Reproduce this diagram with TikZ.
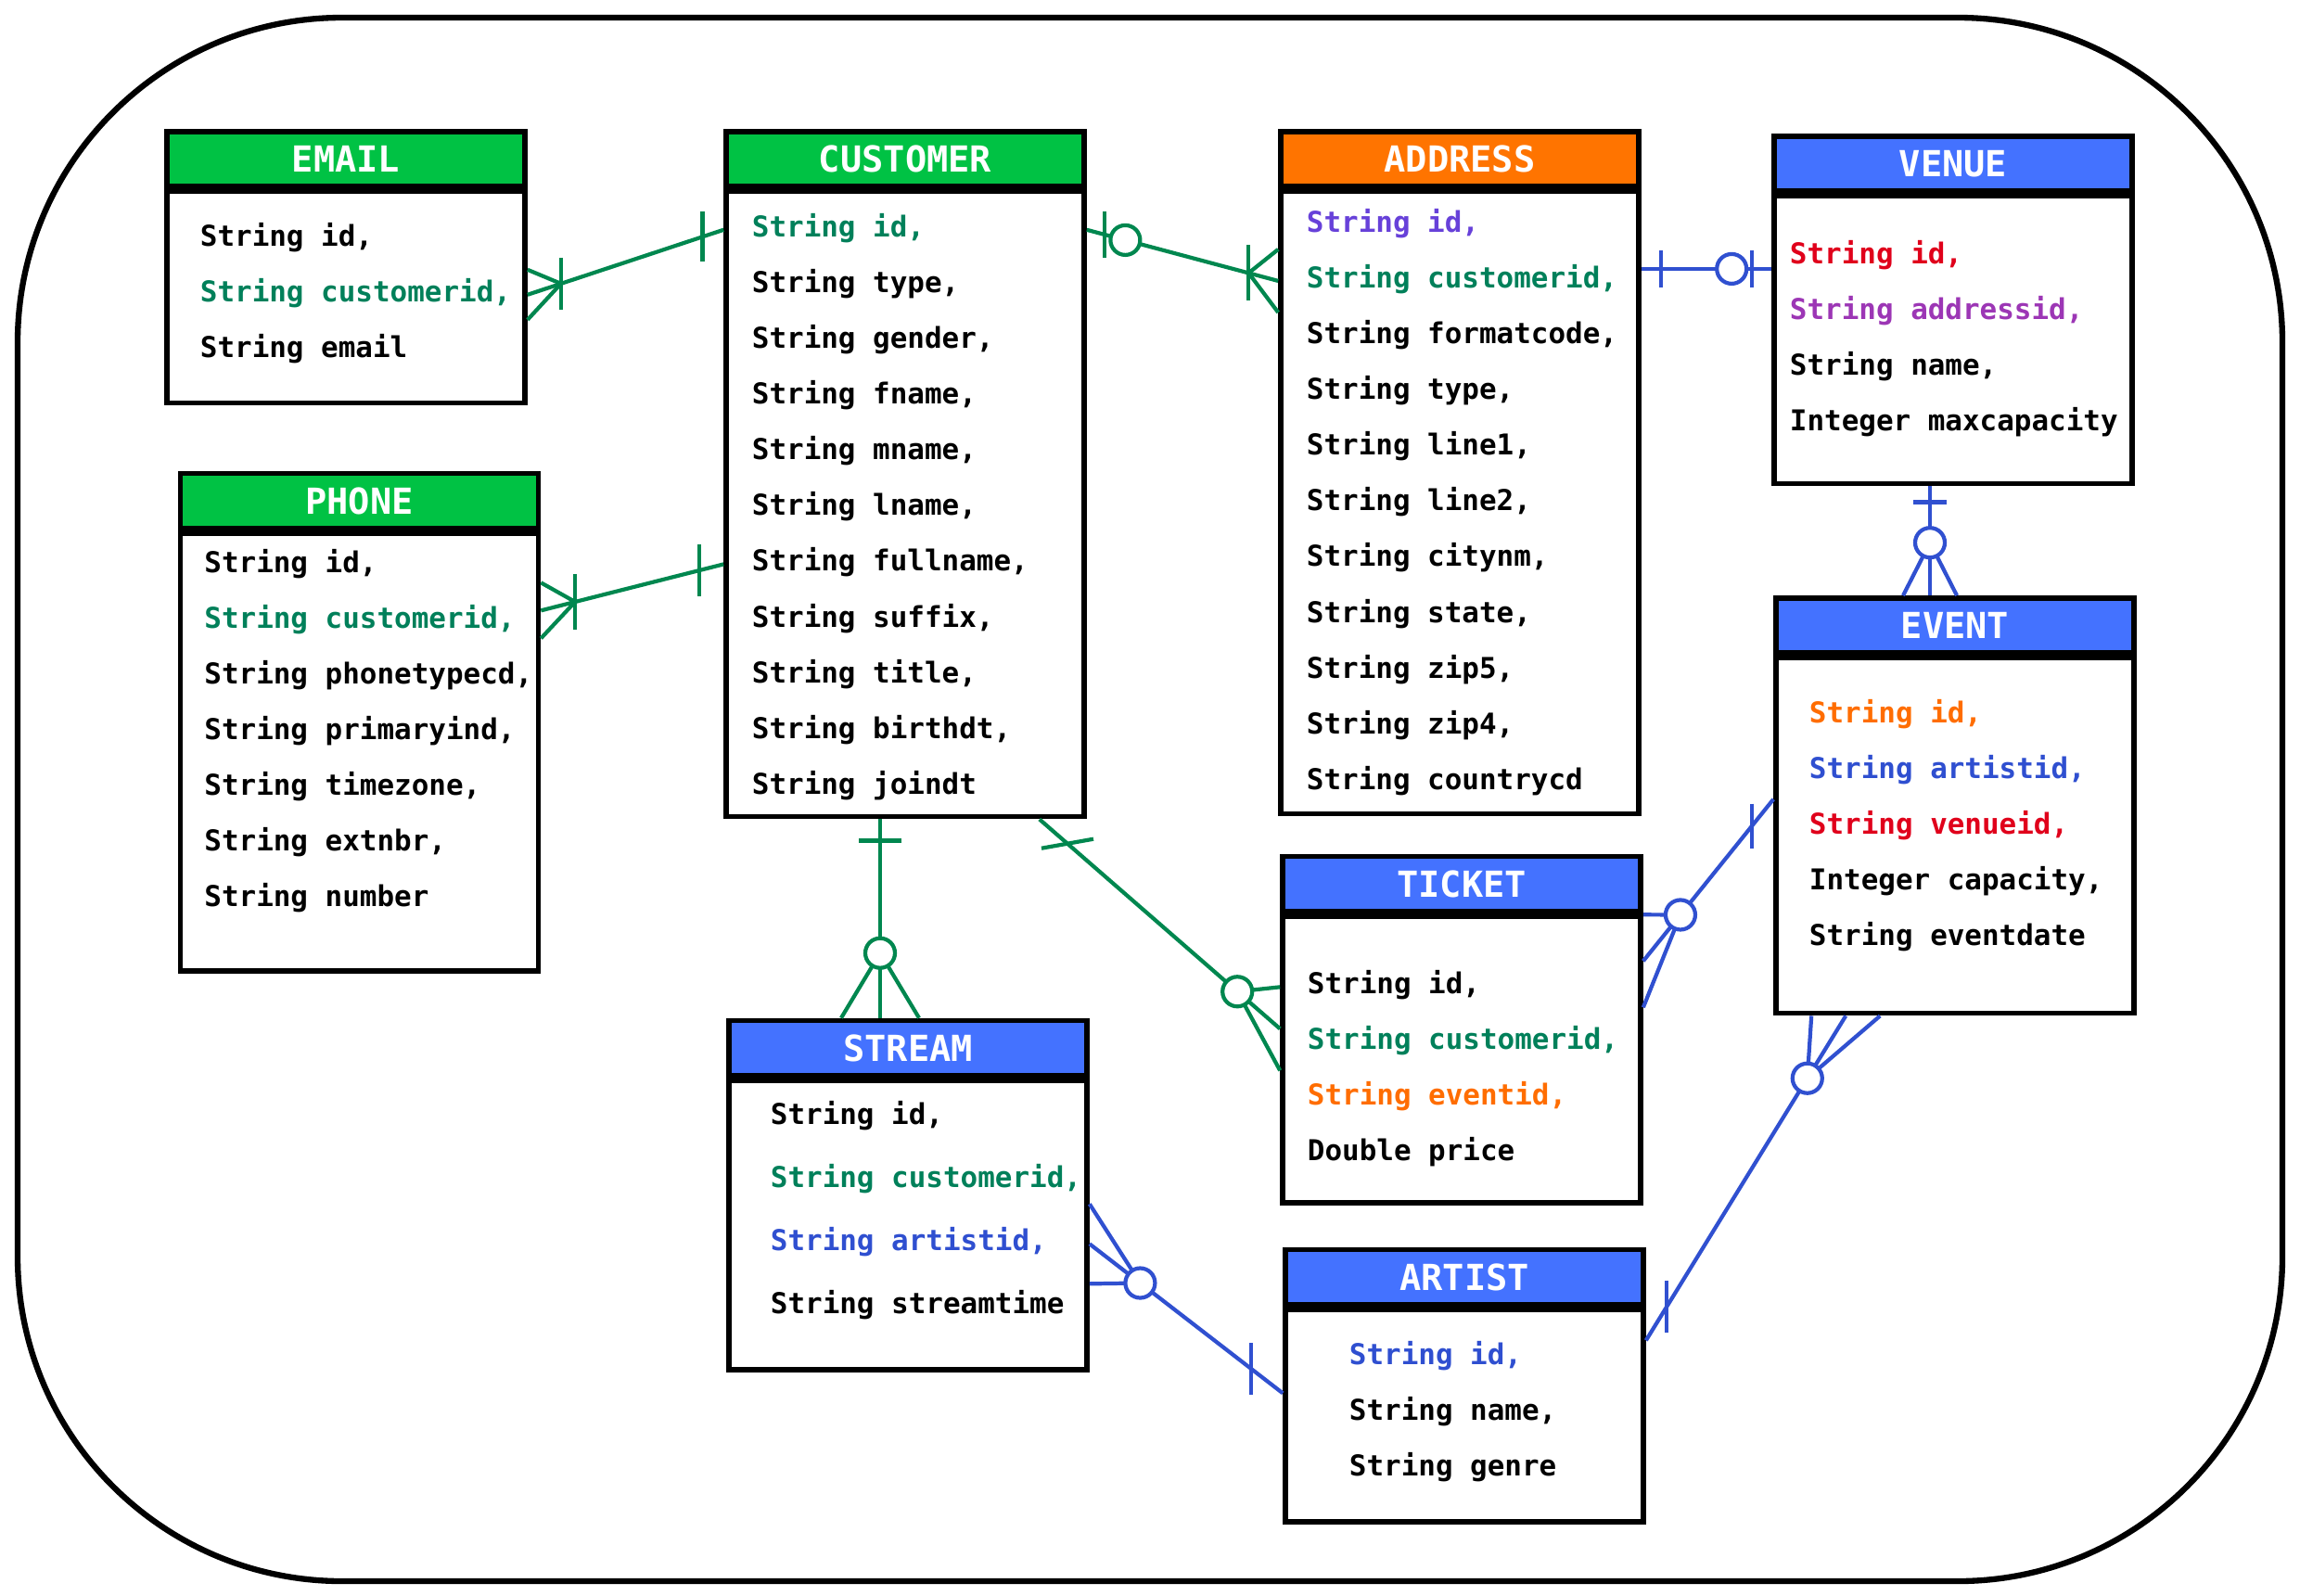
\documentclass[tikz,border=0pt]{standalone}
\usepackage{fontspec}
\newfontfamily\ermono{DejaVu Sans Mono}
\usetikzlibrary{positioning,calc}

\definecolor{hdgreen}{HTML}{00C244}
\definecolor{hdorange}{HTML}{FF7400}
\definecolor{hdblue}{HTML}{4472FF}
\definecolor{kgreen}{HTML}{00805A}
\definecolor{kviolet}{HTML}{6741D9}
\definecolor{kgrape}{HTML}{9C36B5}
\definecolor{kred}{HTML}{E0001B}
\definecolor{korange}{HTML}{FF6D00}
\definecolor{kblue}{HTML}{2F4FD0}
\definecolor{lgreen}{HTML}{00874F}
\definecolor{lblue}{HTML}{3050D0}

% marks at end #1 of a link that runs towards #2;
% the last argument is the half spread along the table edge
\newcommand\crowsfoot[4]{%
  \coordinate (cf) at ($(#1)!#3!(#2)$);
  \draw (cf) -- ($(#1)+#4$) (cf) -- ($(#1)-#4$);}
\newcommand\barmark[4]{%
  \coordinate (bm) at ($(#1)!#3!(#2)$);
  \draw ($(bm)+#4$) -- ($(bm)-#4$);}
\newcommand\ringmark[3]{%
  \draw[fill=white] ($(#1)!#3!(#2)$) circle (0.16cm);}

\tikzset{
  hdr/.style={draw, line width=1.6pt, fill=#1, text=white,
              minimum width=3.86cm, minimum height=0.59cm, inner sep=0pt,
              font=\ermono\bfseries\fontsize{11}{12}\selectfont},
  tbox/.style={draw, line width=1.6pt, fill=white,
               minimum width=3.86cm, inner sep=0pt},
  field/.style={anchor=west, inner sep=0pt, text height=0.23cm, text depth=0.08cm,
                font=\ermono\bfseries\fontsize{8.8}{10}\selectfont},
}

\begin{document}
\begin{tikzpicture}
  \useasboundingbox (0,0) rectangle (24.8,-17.2);
  \draw[line width=1.8pt, rounded corners=3.5cm] (0.19,-0.19) rectangle (24.61,-17.05);

  % tables
  \node[hdr=hdgreen] (email) at (3.73,-1.715) {EMAIL};
  \node[tbox, minimum height=2.28cm, below=0pt of email] (emailbox) {};
  \foreach \f [count=\i from 0] in {{String id,},{\color{kgreen}String customerid,},{String email}}
    \node[field] (email-\i) at ([shift={(0.38,-0.54-0.6*\i)}]emailbox.north west) {\f};

  \node[hdr=hdgreen] (cust) at (9.76,-1.715) {CUSTOMER};
  \node[tbox, minimum height=6.74cm, below=0pt of cust] (custbox) {};
  \foreach \f [count=\i from 0] in {{\color{kgreen}String id,},{String type,},{String gender,},
      {String fname,},{String mname,},{String lname,},{String fullname,},{String suffix,},
      {String title,},{String birthdt,},{String joindt}}
    \node[field] (cust-\i) at ([shift={(0.30,-0.44-0.601*\i)}]custbox.north west) {\f};

  \node[hdr=hdorange] (addr) at (15.74,-1.715) {ADDRESS};
  \node[tbox, minimum height=6.71cm, below=0pt of addr] (addrbox) {};
  \foreach \f [count=\i from 0] in {{\color{kviolet}String id,},{\color{kgreen}String customerid,},
      {String formatcode,},{String type,},{String line1,},{String line2,},{String citynm,},
      {String state,},{String zip5,},{String zip4,},{String countrycd}}
    \node[field] (addr-\i) at ([shift={(0.30,-0.39-0.601*\i)}]addrbox.north west) {\f};

  \node[hdr=hdblue] (venue) at (21.06,-1.765) {VENUE};
  \node[tbox, minimum height=3.10cm, below=0pt of venue] (venuebox) {};
  \foreach \f [count=\i from 0] in {{\color{kred}String id,},{\color{kgrape}String addressid,},
      {String name,},{Integer maxcapacity}}
    \node[field] (venue-\i) at ([shift={(0.19,-0.68-0.6*\i)}]venuebox.north west) {\f};

  \node[hdr=hdgreen] (phone) at (3.875,-5.40) {PHONE};
  \node[tbox, minimum height=4.72cm, below=0pt of phone] (phonebox) {};
  \foreach \f [count=\i from 0] in {{String id,},{\color{kgreen}String customerid,},
      {String phonetypecd,},{String primaryind,},{String timezone,},{String extnbr,},{String number}}
    \node[field] (phone-\i) at ([shift={(0.28,-0.38-0.6*\i)}]phonebox.north west) {\f};

  \node[hdr=hdblue] (event) at (21.08,-6.745) {EVENT};
  \node[tbox, minimum height=3.83cm, below=0pt of event] (eventbox) {};
  \foreach \f [count=\i from 0] in {{\color{korange}String id,},{\color{kblue}String artistid,},
      {\color{kred}String venueid,},{Integer capacity,},{String eventdate}}
    \node[field] (event-\i) at ([shift={(0.38,-0.65-0.6*\i)}]eventbox.north west) {\f};

  \node[hdr=hdblue] (ticket) at (15.76,-9.53) {TICKET};
  \node[tbox, minimum height=3.09cm, below=0pt of ticket] (ticketbox) {};
  \foreach \f [count=\i from 0] in {{String id,},{\color{kgreen}String customerid,},
      {\color{korange}String eventid,},{Double price}}
    \node[field] (ticket-\i) at ([shift={(0.29,-0.79-0.6*\i)}]ticketbox.north west) {\f};

  \node[hdr=hdblue] (stream) at (9.79,-11.30) {STREAM};
  \node[tbox, minimum height=3.12cm, below=0pt of stream] (streambox) {};
  \foreach \f [count=\i from 0] in {{String id,},{\color{kgreen}String customerid,},
      {\color{kblue}String artistid,},{String streamtime}}
    \node[field] (stream-\i) at ([shift={(0.47,-0.43-0.68*\i)}]streambox.north west) {\f};

  \node[hdr=hdblue] (artist) at (15.79,-13.77) {ARTIST};
  \node[tbox, minimum height=2.29cm, below=0pt of artist] (artistbox) {};
  \foreach \f [count=\i from 0] in {{\color{kblue}String id,},{String name,},{String genre}}
    \node[field] (artist-\i) at ([shift={(0.71,-0.55-0.6*\i)}]artistbox.north west) {\f};

  % link ends
  \coordinate (l1a) at (emailbox.east |- email-1);
  \coordinate (l1b) at (custbox.west |- cust-0);
  \coordinate (l2a) at ([yshift=0.12cm]phonebox.east |- phone-1);
  \coordinate (l2b) at (custbox.west |- cust-6);
  \coordinate (l3a) at (custbox.east |- cust-0);
  \coordinate (l3b) at (addrbox.west |- addr-1);
  \coordinate (l4a) at ([yshift=0.13cm]addrbox.east |- addr-1);
  \coordinate (l4b) at (venuebox.west |- l4a);
  \coordinate (l5a) at ([xshift=-0.25cm]venuebox.south);
  \coordinate (l5b) at (l5a |- event.north);
  \coordinate (l6a) at ([xshift=-0.27cm]custbox.south);
  \coordinate (l6b) at (l6a |- stream.north);
  \coordinate (l7a) at ([xshift=-0.51cm]custbox.south east);
  \coordinate (l7b) at ([yshift=-0.45cm]ticketbox.west |- ticket-0);
  \coordinate (l8a) at ([yshift=-0.51cm]ticketbox.north east);
  \coordinate (l8b) at ([yshift=-1.55cm]eventbox.north west);
  \coordinate (l9a) at ([xshift=0.78cm]eventbox.south west);
  \coordinate (l9b) at ([yshift=-0.36cm]artistbox.north east);
  \coordinate (l10a) at (streambox.east |- stream-2);
  \coordinate (l10b) at ([yshift=-0.93cm]artistbox.north west);

  % customer links
  \begin{scope}[lgreen, line width=1.2pt]
    \draw (l1a) -- (l1b);
    \crowsfoot{l1a}{l1b}{0.38cm}{(0,0.27)} \barmark{l1a}{l1b}{0.38cm}{(0,0.28)}
    \barmark{l1b}{l1a}{0.24cm}{(0,0.27)}
    \draw (l2a) -- (l2b);
    \crowsfoot{l2a}{l2b}{0.38cm}{(0,0.30)} \barmark{l2a}{l2b}{0.38cm}{(0,0.30)}
    \barmark{l2b}{l2a}{0.27cm}{(0,0.28)}
    \draw (l3a) -- (l3b);
    \crowsfoot{l3b}{l3a}{0.33cm}{(0,0.34)} \barmark{l3b}{l3a}{0.33cm}{(0,0.30)}
    \barmark{l3a}{l3b}{0.20cm}{(0,0.25)} \ringmark{l3a}{l3b}{0.43cm}
    \draw (l6a) -- (l6b);
    \barmark{l6a}{l6b}{0.23cm}{(0.23,0)}
    \crowsfoot{l6b}{l6a}{0.70cm}{(0.42,0)} \ringmark{l6b}{l6a}{0.70cm}
    \draw (l7a) -- (l7b);
    \barmark{l7a}{l7b}{0.40cm}{(0.28,0.05)}
    \crowsfoot{l7b}{l7a}{0.61cm}{(0,0.45)} \ringmark{l7b}{l7a}{0.61cm}
  \end{scope}

  % venue, event and artist links
  \begin{scope}[lblue, line width=1.2pt]
    \draw (l4a) -- (l4b);
    \barmark{l4a}{l4b}{0.21cm}{(0,0.2)} \barmark{l4b}{l4a}{0.21cm}{(0,0.2)}
    \ringmark{l4b}{l4a}{0.43cm}
    \draw (l5a) -- (l5b);
    \barmark{l5a}{l5b}{0.17cm}{(0.18,0)}
    \crowsfoot{l5b}{l5a}{0.57cm}{(0.29,0)} \ringmark{l5b}{l5a}{0.57cm}
    \draw (l8a) -- (l8b);
    \crowsfoot{l8a}{l8b}{0.64cm}{(0,0.5)} \ringmark{l8a}{l8b}{0.64cm}
    \barmark{l8b}{l8a}{0.37cm}{(0,0.24)}
    \draw (l9a) -- (l9b);
    \crowsfoot{l9a}{l9b}{0.79cm}{(0.37,0)} \ringmark{l9a}{l9b}{0.79cm}
    \barmark{l9b}{l9a}{0.43cm}{(0,0.28)}
    \draw (l10a) -- (l10b);
    \crowsfoot{l10a}{l10b}{0.69cm}{(0,0.43)} \ringmark{l10a}{l10b}{0.69cm}
    \barmark{l10b}{l10a}{0.43cm}{(0,0.28)}
  \end{scope}
\end{tikzpicture}
\end{document}
